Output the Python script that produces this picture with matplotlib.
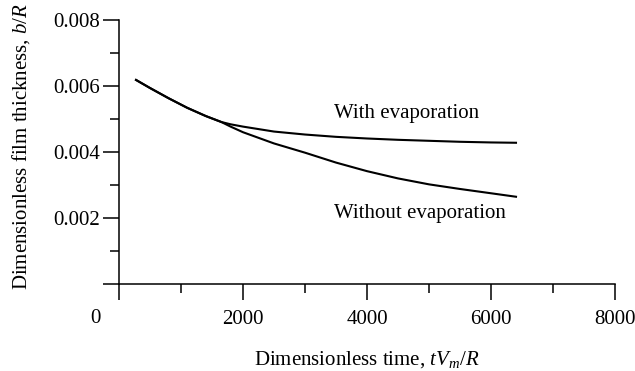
import numpy as np
import matplotlib
matplotlib.use("Agg")
import matplotlib.pyplot as plt
from matplotlib.ticker import MultipleLocator, NullFormatter

plt.rcParams['font.family'] = ['Liberation Serif', 'DejaVu Serif']
plt.rcParams['mathtext.fontset'] = 'custom'
plt.rcParams['mathtext.rm'] = 'Liberation Serif'
plt.rcParams['mathtext.it'] = 'Liberation Serif:italic'

# film thickness vs time, read in dimensionless units
t_with = [260, 500, 800, 1100, 1400, 1650, 1800, 2000, 2500, 3000, 3500,
          4000, 4500, 5000, 5500, 6000, 6420]
b_with = [0.00620, 0.00594, 0.00563, 0.00534, 0.00509, 0.00491, 0.00484,
          0.00477, 0.00462, 0.00453, 0.00446, 0.00441, 0.00437, 0.00434,
          0.00431, 0.00429, 0.00428]

t_without = [260, 500, 800, 1100, 1400, 1650, 1800, 2000, 2500, 3000, 3500,
             4000, 4500, 5000, 5500, 6000, 6420]
b_without = [0.00620, 0.00594, 0.00563, 0.00534, 0.00509, 0.00491, 0.00477,
             0.00460, 0.00426, 0.00398, 0.00368, 0.00342, 0.00320, 0.00302,
             0.00288, 0.00275, 0.00264]

x_ticks = [2000, 4000, 6000, 8000]
y_ticks = [0.002, 0.004, 0.006, 0.008]

FS = 15

fig = plt.figure(figsize=(6.35, 3.71), dpi=100)
ax = fig.add_axes([0.1874, 0.2345, 0.7811, 0.7115])

ax.plot(t_with, b_with, color='black', lw=1.5, solid_capstyle='butt')
ax.plot(t_without, b_without, color='black', lw=1.5, solid_capstyle='butt')

ax.text(3460, 0.00518, 'With evaporation', fontsize=FS, va='center', ha='left')
ax.text(3460, 0.00215, 'Without evaporation', fontsize=FS, va='center', ha='left')

ax.set_xlim(0, 8000)
ax.set_ylim(0, 0.008)

for s in ['top', 'right']:
    ax.spines[s].set_visible(False)
for s in ['left', 'bottom']:
    ax.spines[s].set_linewidth(1.1)

ax.set_xticks([0] + x_ticks)
ax.set_xticklabels([''] + [str(v) for v in x_ticks])
ax.set_yticks([0] + y_ticks)
ax.set_yticklabels([''] + ['%.3f' % v for v in y_ticks])
ax.xaxis.set_minor_locator(MultipleLocator(1000))
ax.yaxis.set_minor_locator(MultipleLocator(0.001))
ax.xaxis.set_minor_formatter(NullFormatter())
ax.yaxis.set_minor_formatter(NullFormatter())

ax.tick_params(which='major', direction='out', length=11.5, width=1.1,
               labelsize=FS)
ax.tick_params(which='minor', direction='out', length=6.5, width=1.1)
ax.tick_params(axis='y', which='major', pad=2)
ax.tick_params(axis='x', which='major', pad=7)

# origin label sits left of the corner
ax.text(-0.048, -0.129, '0', transform=ax.transAxes, fontsize=FS,
        ha='center', va='center')

ax.set_xlabel('Dimensionless time, $tV_m/R$', fontsize=FS)
ax.set_ylabel('Dimensionless film thickness, $b/R$', fontsize=FS)
ax.xaxis.set_label_coords(0.5, -0.247)
ax.yaxis.set_label_coords(-0.176, 0.52)

fig.savefig('out.png', dpi=100)
